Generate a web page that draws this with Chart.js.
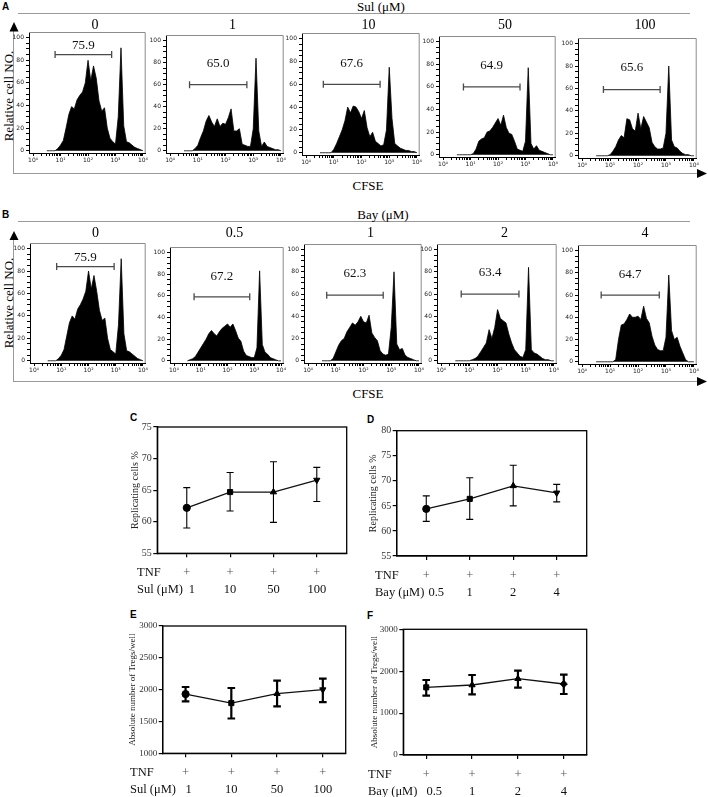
<!DOCTYPE html>
<html><head><meta charset="utf-8">
<script src="https://cdn.jsdelivr.net/npm/chart.js@4.4.1/dist/chart.umd.min.js"></script>
<style>
html,body{margin:0;padding:0;background:#fff;}
#fig{position:relative;width:708px;height:797px;overflow:hidden;background:#fff;}
canvas{position:absolute;}
.t{position:absolute;white-space:nowrap;color:#000;}
svg{position:absolute;left:0;top:0;}
</style></head><body><div id="fig"></div>
<script>
// ---------------- DATA ----------------
// CFSE histogram bins (log10 fluorescence) and relative cell numbers
const cfseBins = [0.5,0.6,0.7,0.8,0.9,1.0,1.1,1.2,1.3,1.4,1.5,1.6,1.7,1.8,1.9,2.0,2.1,2.2,2.3,2.4,2.5,2.6,2.7,2.8,2.9,3.0,3.1,3.2,3.3,3.4,3.5,3.6,3.7,3.8,3.9,4.0];
const histSul0   = [0,0, 0,0,2,5,9,20,32,39,37,45, 49,52,60,80,62,75,64,44,35,38, 20,11,8,6,30,91,22,8,7,5, 3,2,1,0];
const histSul1   = [0,0, 0,0,2,5,12,18,27,32,26,22, 29,22,25,24,30,38,18,18,20,6, 5,4,4,20,84,18,4,8,4,3, 2,1,1,0];
const histSul10  = [0,0, 0,0,0,3,8,14,20,28,40,35, 41,40,36,30,37,22,14,18,10,8, 6,7,20,75,30,8,6,4,3,2, 2,1,1,0];
const histSul50  = [0,0, 0,0,0,0,1,5,12,14,15,20, 21,24,28,32,26,35,24,19,18,12, 5,4,3,12,77,10,5,8,4,3, 2,1,0,0];
const histSul100 = [0,0, 0,0,0,1,4,8,14,18,16,33, 32,24,22,38,24,35,30,25,12,8, 6,6,7,20,80,14,8,7,4,2, 1,1,0,0];
const histBay0   = [0,0, 0,0,2,5,10,22,34,40,37,46, 50,55,62,80,64,76,62,45,36,38, 20,10,8,6,32,91,24,9,8,6, 4,2,1,0];
const histBay05  = [0,1, 2,4,8,12,16,20,25,28,25,23, 27,30,32,34,31,34,28,21,18,9, 5,4,3,3,12,83,15,8,6,3, 2,1,0,0];
const histBay1   = [0,0, 0,0,2,8,14,18,20,26,30,34, 32,35,40,35,34,41,25,21,18,9, 6,5,6,30,80,15,10,11,5,3, 2,1,0,0];
const histBay2   = [0,0, 0,0,0,0,1,2,4,8,12,16, 28,20,30,46,38,36,34,24,16,10, 7,4,3,10,84,10,7,6,4,2, 1,1,0,0];
const histBay4   = [0,0, 0,0,0,0,0,2,20,33,34,38, 43,40,40,41,38,50,39,35,23,15, 11,10,10,22,78,28,20,22,14,8, 2,0,0,0];

const sulConc = ['0','1','10','50','100'];
const bayConc = ['0','0.5','1','2','4'];
const cfseTickLabels = ['10⁰','10¹','10²','10³','10⁴'];
const countTickLabels = [0,20,40,60,80,100];

// gates (log10 CFSE start/end, height) and % replicating labels
const sulGatePct = ['75.9','65.0','67.6','64.9','65.6'];
const sulGateStart = [0.80,0.70,0.62,0.74,0.76];
const sulGateEnd   = [2.86,2.77,2.67,2.80,2.79];
const sulGateY     = [85,60,60,60,59];
const sulGateLabelY= [93,79,78,79,79];
const bayGatePct = ['75.9','67.2','62.3','63.4','64.7'];
const bayGateStart = [0.83,0.75,0.67,0.71,0.68];
const bayGateEnd   = [2.94,2.83,2.71,2.76,2.76];
const bayGateY     = [84,59,59,60,60];
const bayGateLabelY= [92,78,78,79,78];

// summary panels C-F
const tnfRow   = ['+','+','+','+'];
const sulDoses = ['1','10','50','100'];
const bayDoses = ['0.5','1','2','4'];
const repSulMean = [62.2,64.7,64.7,66.6];
const repSulHigh = [65.4,67.8,69.5,68.6];
const repSulLow  = [59.0,61.7,59.9,63.2];
const repBayMean = [64.4,66.4,69.0,67.6];
const repBayHigh = [67.0,70.6,73.1,69.3];
const repBayLow  = [61.9,62.3,65.0,65.8];
const tregSulMean = [1931,1789,1937,2000];
const tregSulHigh = [2042,2026,2142,2174];
const tregSulLow  = [1816,1547,1737,1805];
const tregBayMean = [1615,1671,1822,1695];
const tregBayHigh = [1790,1909,2013,1917];
const tregBayLow  = [1416,1448,1607,1456];

// ---------------- LAYOUT ----------------
const SERIF = "'Liberation Serif','Times New Roman',serif";
const SANS = "'Liberation Sans',Arial,sans-serif";
Chart.defaults.font.family = SERIF;
const fig = document.getElementById('fig');

function addText(str, x, baseline, size, opts) {
  opts = opts || {};
  const d = document.createElement('div');
  d.className = 't';
  d.textContent = str;
  const fam = opts.family || SERIF;
  d.style.font = (opts.weight || 'normal') + ' ' + size + 'px ' + fam;
  d.style.lineHeight = size + 'px';
  const asc = fam === SANS ? 0.8465 : 0.8375;
  d.style.top = (baseline - asc * size) + 'px';
  d.style.left = x + 'px';
  if (opts.align === 'center') d.style.transform = 'translateX(-50%)';
  fig.appendChild(d);
}
function addRotText(str, cx, cy, size) {
  const d = document.createElement('div');
  d.className = 't';
  d.textContent = str;
  d.style.font = size + 'px ' + SERIF;
  d.style.lineHeight = size + 'px';
  d.style.left = cx + 'px';
  d.style.top = cy + 'px';
  d.style.transform = 'translate(-50%,-50%) rotate(-90deg)';
  fig.appendChild(d);
}
function makeCanvas(l, t, w, h) {
  const c = document.createElement('canvas');
  c.width = w; c.height = h;
  c.style.left = l + 'px'; c.style.top = t + 'px';
  c.style.width = w + 'px'; c.style.height = h + 'px';
  fig.appendChild(c);
  return c;
}

// decorations (lines and arrows)
const NS = 'http://www.w3.org/2000/svg';
const svg = document.createElementNS(NS, 'svg');
svg.setAttribute('width', 708); svg.setAttribute('height', 797);
fig.appendChild(svg);
function line(x1,y1,x2,y2,col,w){const l=document.createElementNS(NS,'line');l.setAttribute('x1',x1);l.setAttribute('y1',y1);l.setAttribute('x2',x2);l.setAttribute('y2',y2);l.setAttribute('stroke',col);l.setAttribute('stroke-width',w);svg.appendChild(l);}
function tri(pts){const p=document.createElementNS(NS,'polygon');p.setAttribute('points',pts);p.setAttribute('fill','#000');svg.appendChild(p);}

// header lines
line(18,13.5,690,13.5,'#9a9a9a',1);
line(18,221.5,690,221.5,'#9a9a9a',1);
// row A axes arrows
line(13.5,30,13.5,173.5,'#9a9a9a',1);
tri('14,22 9.5,31.5 18.5,31.5');
line(13,173.5,698,173.5,'#9a9a9a',1);
tri('707,173.5 697,169 697,178');
// row B axes arrows
line(13.5,239,13.5,381.5,'#9a9a9a',1);
tri('14,231 9.5,240 18.5,240');
line(13,381.5,698,381.5,'#9a9a9a',1);
tri('707,381.5 697,377 697,386');

// texts
addText('A', 2, 10.7, 10, {family: SANS, weight: 'bold'});
addText('B', 2, 218.3, 10, {family: SANS, weight: 'bold'});
addText('C', 130, 421, 10, {family: SANS, weight: 'bold'});
addText('D', 367, 423, 10, {family: SANS, weight: 'bold'});
addText('E', 130, 618, 10, {family: SANS, weight: 'bold'});
addText('F', 367, 619, 10, {family: SANS, weight: 'bold'});
addText('Sul (μM)', 381, 11, 13, {align: 'center'});
addText('Bay (μM)', 383, 218.5, 13, {align: 'center'});
addText('CFSE', 368, 190, 13, {align: 'center'});
addText('CFSE', 368, 398, 13, {align: 'center'});
addRotText('Relative cell NO.', 7.5, 96, 13);
addRotText('Relative cell NO.', 7.5, 303, 13);

// ---------------- HISTOGRAMS ----------------
const rowALayout = [[29,147,32,153],[166,285,35,153],[302,421,33,155],[439,557,36,157],[578,698,38,158]];
const rowBLayout = [[30,147,243,363],[170,285,247,363],[304,423,244,363],[437,558,244,363],[578,698,245,364]];

function histogram(layout, counts, gs, ge, gy, gly, pct, title, titleBaseline) {
  const ax = layout[0], pr = layout[1], pt = layout[2], ay = layout[3];
  const cl = ax - 24, ct = pt - 6, cr = pr + 4, cb = ay + 20;
  const canvas = makeCanvas(cl, ct, cr - cl, cb - ct);
  const yW = 17, xH = 12;
  addText(title, (ax + pr) / 2 + 7, titleBaseline, 14, {align: 'center'});
  const deco = {
    id: 'deco' + ax + '_' + pt,
    beforeDatasetsDraw(chart) {
      const a = chart.chartArea, ctx = chart.ctx;
      ctx.save();
      ctx.strokeStyle = '#8c8c8c'; ctx.lineWidth = 1;
      ctx.beginPath();
      ctx.moveTo(a.left, a.top + 0.5); ctx.lineTo(a.right - 0.5, a.top + 0.5); ctx.lineTo(a.right - 0.5, a.bottom);
      ctx.stroke();
      ctx.restore();
    },
    afterDatasetsDraw(chart) {
      const ctx = chart.ctx, xs = chart.scales.x, ys = chart.scales.y;
      ctx.save();
      ctx.font = '13px ' + SERIF; ctx.fillStyle = '#111';
      ctx.textAlign = 'center'; ctx.textBaseline = 'middle';
      ctx.fillText(pct, xs.getPixelForValue((gs + ge) / 2), ys.getPixelForValue(gly));
      ctx.restore();
    }
  };
  new Chart(canvas, {
    type: 'line',
    data: { datasets: [
      { data: cfseBins.map((b, i) => ({x: b, y: counts[i]})), borderColor: '#000', backgroundColor: '#000',
        borderWidth: 0.8, fill: 'origin', pointRadius: 0, tension: 0 },
      { data: [{x: gs, y: gy}, {x: ge, y: gy}], borderColor: '#4a4a4a', borderWidth: 1.3, fill: false,
        pointStyle: 'line', pointRotation: 90, pointRadius: 3.5, pointBorderColor: '#4a4a4a', pointBorderWidth: 1.3 }
    ]},
    options: {
      responsive: false, animation: false, devicePixelRatio: 1, events: [],
      layout: { padding: { left: ax - cl - yW, top: pt - ct, right: cr - pr, bottom: cb - ay - xH } },
      plugins: { legend: {display: false}, tooltip: {enabled: false} },
      scales: {
        x: { type: 'linear', min: -0.15, max: 4.1,
          afterBuildTicks: s => { const t = []; for (let d = 0; d < 4; d++) for (let k = 1; k < 10; k++) t.push({value: d + Math.log10(k)}); t.push({value: 4}); s.ticks = t; },
          afterFit: s => { s.height = xH; },
          ticks: { autoSkip: false, maxRotation: 0, padding: 1, font: {size: 6, family: "'DejaVu Sans'"}, color: '#222',
            callback: v => (Number.isInteger(v) ? cfseTickLabels[v] : '') },
          grid: { drawOnChartArea: false, tickLength: 3, color: '#000' },
          border: { color: '#000', width: 1 } },
        y: { min: -2, max: 105,
          afterBuildTicks: s => { const t = []; for (let v = 0; v <= 100; v += 5) t.push({value: v}); s.ticks = t; },
          afterFit: s => { s.width = yW; },
          ticks: { autoSkip: false, padding: 2, font: {size: 6, family: "'DejaVu Sans'"}, color: '#222',
            callback: v => (countTickLabels.includes(v) ? String(v) : '') },
          grid: { drawOnChartArea: false, tickLength: 3, color: '#000' },
          border: { color: '#000', width: 1 } }
      }
    },
    plugins: [deco]
  });
}

const sulHists = [histSul0, histSul1, histSul10, histSul50, histSul100];
const bayHists = [histBay0, histBay05, histBay1, histBay2, histBay4];
for (let i = 0; i < 5; i++) {
  histogram(rowALayout[i], sulHists[i], sulGateStart[i], sulGateEnd[i], sulGateY[i], sulGateLabelY[i], sulGatePct[i], sulConc[i], 29.5);
  histogram(rowBLayout[i], bayHists[i], bayGateStart[i], bayGateEnd[i], bayGateY[i], bayGateLabelY[i], bayGatePct[i], bayConc[i], 237.5);
}

// ---------------- SUMMARY PANELS ----------------
function dotChart(cfg) {
  const [cl, ct, cr, cb] = cfg.canvas;
  const [pl, pt, pr, pb] = cfg.plot;
  const canvas = makeCanvas(cl, ct, cr - cl, cb - ct);
  const xH = 8;
  const extras = {
    id: 'extras' + cl + '_' + ct,
    afterDatasetsDraw(chart) {
      const ctx = chart.ctx, xs = chart.scales.x, ys = chart.scales.y, a = chart.chartArea;
      ctx.save();
      // error bars
      ctx.strokeStyle = '#000'; ctx.lineWidth = cfg.errW;
      for (let i = 0; i < cfg.mean.length; i++) {
        const x = xs.getPixelForValue(i + 1);
        const yh = ys.getPixelForValue(cfg.hi[i]), yl = ys.getPixelForValue(cfg.lo[i]);
        ctx.beginPath();
        ctx.moveTo(x, yh); ctx.lineTo(x, yl);
        ctx.moveTo(x - cfg.cap, yh); ctx.lineTo(x + cfg.cap, yh);
        ctx.moveTo(x - cfg.cap, yl); ctx.lineTo(x + cfg.cap, yl);
        ctx.stroke();
      }
      // frame
      ctx.lineWidth = 1.3;
      ctx.strokeRect(a.left, a.top, a.right - a.left, a.bottom - a.top);
      // row labels under the axis
      ctx.font = '12.5px ' + SERIF;
      ctx.textBaseline = 'alphabetic';
      ctx.fillStyle = '#111'; ctx.textAlign = 'left';
      ctx.fillText('TNF', cfg.headerX - cl, a.bottom + 23);
      ctx.fillText(cfg.doseHeader, cfg.headerX - cl, a.bottom + 40);
      ctx.textAlign = 'center';
      for (let i = 0; i < cfg.doses.length; i++) {
        const x = xs.getPixelForValue(i + 1);
        ctx.fillStyle = '#555';
        ctx.fillText(tnfRow[i], x, a.bottom + 23);
        ctx.fillStyle = '#111';
        ctx.fillText(cfg.doses[i], x + (i === 0 ? cfg.firstOff : 0), a.bottom + 40);
      }
      ctx.restore();
    }
  };
  new Chart(canvas, {
    type: 'line',
    data: { datasets: [{
      data: cfg.mean.map((m, i) => ({x: i + 1, y: m})),
      borderColor: '#111', borderWidth: 1.3, fill: false, tension: 0,
      pointStyle: cfg.markers, pointRotation: cfg.rot, pointRadius: 3.6,
      pointBackgroundColor: '#000', pointBorderColor: '#000', pointBorderWidth: 1
    }]},
    options: {
      responsive: false, animation: false, devicePixelRatio: 1, events: [],
      layout: { padding: { left: pl - cl - cfg.yW, top: pt - ct, right: cr - pr, bottom: cb - pb - xH } },
      plugins: { legend: {display: false}, tooltip: {enabled: false} },
      scales: {
        x: { type: 'linear', min: cfg.xMin, max: cfg.xMax,
          afterBuildTicks: s => { s.ticks = [1, 2, 3, 4].map(v => ({value: v})); },
          afterFit: s => { s.height = xH; },
          ticks: { display: false },
          grid: { drawOnChartArea: false, tickLength: 4, color: '#000', lineWidth: 1.2 },
          border: { color: '#000', width: 1.3 } },
        y: { min: cfg.yMin, max: cfg.yMax,
          afterFit: s => { s.width = cfg.yW; },
          ticks: { stepSize: cfg.yStep, padding: 1.5, font: {size: cfg.tickSize, family: SERIF}, color: '#333',
            callback: v => String(v) },
          grid: { drawOnChartArea: false, tickLength: 4, color: '#000', lineWidth: 1.2 },
          border: { color: '#000', width: 1.3 },
          title: { display: true, text: cfg.title, font: {size: cfg.titleSize, family: SERIF}, color: '#222', padding: {top: 1, bottom: 0} } }
      }
    },
    plugins: [extras]
  });
}

dotChart({ canvas: [118, 405, 355, 600], plot: [157.3, 427, 346.7, 553.3], yW: 29.3,
  xMin: 0.32, xMax: 4.69, yMin: 55, yMax: 75, yStep: 5, tickSize: 10,
  mean: repSulMean, hi: repSulHigh, lo: repSulLow, errW: 1.1, cap: 3.5,
  markers: ['circle','rect','triangle','triangle'], rot: [0,0,0,180],
  title: 'Replicating cells %', titleSize: 10,
  headerX: 137, doseHeader: 'Sul (μM)', doses: sulDoses, firstOff: 5 });

dotChart({ canvas: [360, 405, 600, 602], plot: [396.7, 430.7, 586.7, 556], yW: 30.7,
  xMin: 0.32, xMax: 4.69, yMin: 55, yMax: 80, yStep: 5, tickSize: 10,
  mean: repBayMean, hi: repBayHigh, lo: repBayLow, errW: 1.1, cap: 3.5,
  markers: ['circle','rect','triangle','triangle'], rot: [0,0,0,180],
  title: 'Replicating cells %', titleSize: 10,
  headerX: 375, doseHeader: 'Bay (μM)', doses: bayDoses, firstOff: 10 });

dotChart({ canvas: [118, 605, 355, 797], plot: [162.7, 626, 345.7, 753.3], yW: 36.1,
  xMin: 0.5, xMax: 4.5, yMin: 1000, yMax: 3000, yStep: 500, tickSize: 9,
  mean: tregSulMean, hi: tregSulHigh, lo: tregSulLow, errW: 2.2, cap: 3.8,
  markers: ['circle','rect','triangle','triangle'], rot: [0,0,0,180],
  title: 'Absolute number of Tregs/well', titleSize: 9,
  headerX: 130, doseHeader: 'Sul (μM)', doses: sulDoses, firstOff: 3 });

dotChart({ canvas: [360, 605, 600, 797], plot: [403.3, 629.3, 586.7, 755], yW: 34.7,
  xMin: 0.5, xMax: 4.5, yMin: 0, yMax: 3000, yStep: 1000, tickSize: 9,
  mean: tregBayMean, hi: tregBayHigh, lo: tregBayLow, errW: 2.2, cap: 3.8,
  markers: ['rect','triangle','triangle','rectRot'], rot: [0,0,0,0],
  title: 'Absolute number of Tregs/well', titleSize: 9,
  headerX: 368, doseHeader: 'Bay (μM)', doses: bayDoses, firstOff: 8 });
</script>
</body></html>
